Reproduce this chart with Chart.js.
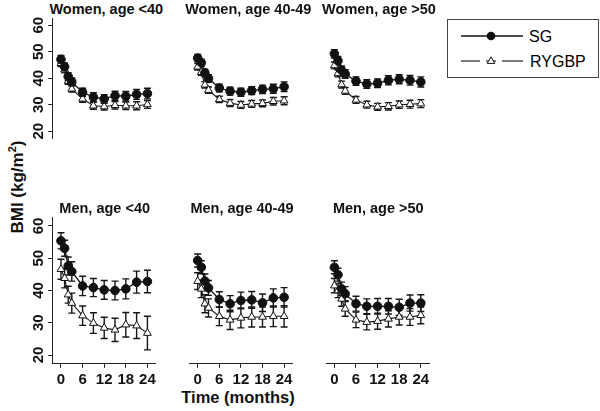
<!DOCTYPE html>
<html lang="en">
<head>
<meta charset="UTF-8">
<title>BMI after SG and RYGBP</title>
<script src="https://cdn.jsdelivr.net/npm/chart.js"></script>
<style>
  body { margin: 0; background: #fff; font-family: "Liberation Sans", Arial, sans-serif; color: #111; }
  #wrap { position: relative; width: 600px; height: 411px; overflow: hidden; }
  #wrap canvas { position: absolute; left: 0; top: 0; }
  .ptitle { position: absolute; font-weight: bold; font-size: 14.5px; white-space: nowrap; transform: translate(-50%, -50%); }
  .ytitle { position: absolute; left: 17px; top: 187px; font-weight: bold; font-size: 17px; white-space: nowrap; transform: translate(-50%, -50%) rotate(-90deg); }
  .xtitle { position: absolute; left: 238px; top: 397px; font-weight: bold; font-size: 16.5px; white-space: nowrap; transform: translate(-50%, -50%); }
  .legend { position: absolute; left: 447px; top: 19px; width: 150px; height: 57px; border: 1px solid #444; }
  .legend svg { position: absolute; left: 0; top: 0; }
</style>
</head>
<body>
<div id="wrap">
  <div class="ytitle">BMI (kg/m<sup style="font-size:11px">2</sup>)</div>
  <div class="xtitle">Time (months)</div>
  <div class="legend">
    <svg width="150" height="57" font-family="Liberation Sans, Arial" font-size="16">
      <line x1="13" y1="16" x2="75" y2="16" stroke="#111" stroke-width="1.3"/>
      <circle cx="43" cy="16" r="4.3" fill="#111"/>
      <line x1="13" y1="41" x2="32" y2="41" stroke="#111" stroke-width="1.1"/>
      <line x1="38" y1="41" x2="48" y2="41" stroke="#111" stroke-width="1.1"/>
      <line x1="54" y1="41" x2="75" y2="41" stroke="#111" stroke-width="1.1"/>
      <polygon points="43,36.8 39.2,43.4 46.8,43.4" fill="#fff" stroke="#111" stroke-width="1"/>
      <text x="81" y="16" dominant-baseline="central">SG</text>
      <text x="82" y="41" dominant-baseline="central">RYGBP</text>
    </svg>
  </div>
</div>

<script>
  const months = [0, 1, 2, 3, 6, 9, 12, 15, 18, 21, 24];
  const xTicks = [0, 6, 12, 18, 24];
  const yTicks = [20, 30, 40, 50, 60];
  const panelTitles = ['Women, age <40', 'Women, age 40-49', 'Women, age >50',
                       'Men, age <40', 'Men, age 40-49', 'Men, age >50'];

  // mean BMI and error (half-width of the bar)
  const womenU40SG     = [47.1, 44.3, 40.6, 38.6, 34.7, 32.9, 32.2, 33.4, 33.2, 33.9, 34.2];
  const womenU40SGErr  = [1.5, 1.5, 1.5, 1.5, 1.5, 1.6, 1.6, 1.7, 1.8, 1.9, 2.0];
  const womenU40RY     = [45.6, 43.2, 38.9, 36.0, 32.2, 29.6, 29.3, 29.8, 29.6, 29.6, 30.1];
  const womenU40RYErr  = [1.2, 1.2, 1.2, 1.2, 1.3, 1.3, 1.3, 1.4, 1.4, 1.5, 1.5];

  const women4049SG    = [47.6, 45.8, 42.0, 39.9, 36.3, 35.1, 34.7, 35.3, 35.8, 36.0, 36.8];
  const women4049SGErr = [1.4, 1.4, 1.4, 1.4, 1.4, 1.5, 1.5, 1.5, 1.6, 1.7, 1.8];
  const women4049RY    = [44.3, 42.3, 37.5, 35.5, 32.0, 30.6, 29.9, 30.3, 30.5, 31.3, 31.5];
  const women4049RYErr = [1.2, 1.2, 1.2, 1.2, 1.2, 1.3, 1.3, 1.3, 1.3, 1.4, 1.5];

  const women50SG      = [49.2, 46.6, 43.0, 41.6, 38.9, 37.8, 38.1, 39.2, 39.6, 39.2, 38.6];
  const women50SGErr   = [1.6, 1.6, 1.6, 1.6, 1.6, 1.6, 1.6, 1.7, 1.7, 1.8, 1.9];
  const women50RY      = [44.8, 41.8, 37.6, 35.2, 31.8, 30.0, 29.2, 29.4, 30.0, 30.2, 30.4];
  const women50RYErr   = [1.3, 1.3, 1.3, 1.3, 1.3, 1.3, 1.3, 1.4, 1.4, 1.5, 1.5];

  const men40SG        = [55.4, 53.1, 47.6, 45.9, 41.4, 40.9, 40.2, 40.0, 40.5, 42.6, 42.8];
  const men40SGErr     = [2.5, 2.5, 2.8, 3.0, 3.0, 2.8, 2.9, 2.9, 3.1, 3.4, 3.5];
  const men40RY        = [46.6, 43.8, 38.7, 36.1, 32.2, 29.9, 28.4, 27.8, 29.4, 29.1, 26.8];
  const men40RYErr     = [3.1, 3.0, 2.6, 3.1, 3.0, 3.2, 3.3, 3.6, 3.8, 4.0, 5.2];

  const men4049SG      = [49.3, 47.2, 42.9, 40.8, 37.2, 35.9, 36.9, 37.1, 36.2, 37.7, 37.9];
  const men4049SGErr   = [2.0, 2.0, 2.2, 2.3, 2.4, 2.5, 2.6, 2.6, 2.7, 2.8, 3.0];
  const men4049RY      = [42.9, 40.5, 35.9, 34.6, 32.0, 30.9, 31.5, 31.8, 31.8, 32.0, 32.0];
  const men4049RYErr   = [2.6, 2.7, 2.8, 2.8, 2.9, 3.0, 3.1, 3.1, 3.1, 3.2, 3.3];

  const men50SG        = [47.2, 44.9, 40.5, 39.0, 35.9, 35.1, 35.1, 35.1, 34.8, 36.1, 36.1];
  const men50SGErr     = [2.0, 2.0, 2.1, 2.2, 2.3, 2.3, 2.4, 2.4, 2.5, 2.5, 2.6];
  const men50RY        = [41.5, 40.0, 37.4, 34.3, 30.9, 30.2, 30.5, 31.2, 31.8, 31.8, 32.3];
  const men50RYErr     = [2.2, 2.2, 2.3, 2.3, 2.4, 2.4, 2.5, 2.5, 2.5, 2.6, 2.6];

  const panels = [
    { sg: womenU40SG, sgErr: womenU40SGErr, ry: womenU40RY, ryErr: womenU40RYErr },
    { sg: women4049SG, sgErr: women4049SGErr, ry: women4049RY, ryErr: women4049RYErr },
    { sg: women50SG, sgErr: women50SGErr, ry: women50RY, ryErr: women50RYErr },
    { sg: men40SG, sgErr: men40SGErr, ry: men40RY, ryErr: men40RYErr },
    { sg: men4049SG, sgErr: men4049SGErr, ry: men4049RY, ryErr: men4049RYErr },
    { sg: men50SG, sgErr: men50SGErr, ry: men50RY, ryErr: men50RYErr }
  ];

  // page layout
  const W = 600, H = 411;
  const plotLeft = [52.7, 189.4, 326.1];
  const plotTop = [18.3, 217.6];
  const plotW = 103, plotH = 145.8;
  const xAxisH = 26;
  const titleX = [[106.3, 248.3, 379], [104.7, 242, 378.3]];
  const titleY = [8.5, 208];
  const FONT = '"Liberation Sans", Arial, sans-serif';
  const INK = '#111';

  const errorBars = {
    id: 'errorBars',
    beforeDatasetsDraw(chart) {
      const { ctx, scales: { x, y } } = chart;
      ctx.save();
      ctx.strokeStyle = '#161616';
      ctx.lineWidth = 1.4;
      chart.data.datasets.forEach(ds => {
        ds.data.forEach((pt, i) => {
          const px = x.getPixelForValue(pt.x);
          const top = y.getPixelForValue(pt.y + ds.err[i]);
          const bot = y.getPixelForValue(pt.y - ds.err[i]);
          ctx.beginPath();
          ctx.moveTo(px, top); ctx.lineTo(px, bot);
          ctx.moveTo(px - 3.5, top); ctx.lineTo(px + 3.5, top);
          ctx.moveTo(px - 3.5, bot); ctx.lineTo(px + 3.5, bot);
          ctx.stroke();
        });
      });
      ctx.restore();
    }
  };

  // y tick labels are rotated (read bottom to top)
  const yTickLabels = {
    id: 'yTickLabels',
    afterDraw(chart) {
      const { ctx, chartArea, scales: { y } } = chart;
      ctx.save();
      ctx.fillStyle = INK;
      ctx.font = 'bold 15px ' + FONT;
      ctx.textAlign = 'center';
      ctx.textBaseline = 'alphabetic';
      y.ticks.forEach(t => {
        ctx.save();
        ctx.translate(chartArea.left - 9.4, y.getPixelForValue(t.value));
        ctx.rotate(-Math.PI / 2);
        ctx.fillText(String(t.value), 0, 0);
        ctx.restore();
      });
      ctx.restore();
    }
  };

  const wrap = document.getElementById('wrap');

  panels.forEach((p, k) => {
    const row = Math.floor(k / 3), col = k % 3;
    const L = plotLeft[col], T = plotTop[row];
    const hasX = row === 1;

    const t = document.createElement('div');
    t.className = 'ptitle';
    t.style.left = titleX[row][col] + 'px';
    t.style.top = titleY[row] + 'px';
    t.textContent = panelTitles[k];
    wrap.appendChild(t);

    const cv = document.createElement('canvas');
    cv.width = W; cv.height = H;
    wrap.appendChild(cv);

    const axisGrid = { display: true, drawOnChartArea: false, drawTicks: true, tickLength: 4.5, color: '#222', lineWidth: 1 };
    const axisBorder = { display: true, color: '#222', width: 1 };

    new Chart(cv, {
      type: 'line',
      data: {
        datasets: [
          {
            label: 'SG',
            data: months.map((m, i) => ({ x: m, y: p.sg[i] })),
            err: p.sgErr,
            borderColor: INK, borderWidth: 1.3,
            pointStyle: 'circle', pointRadius: 4.3,
            pointBackgroundColor: INK, pointBorderColor: INK, pointBorderWidth: 1
          },
          {
            label: 'RYGBP',
            data: months.map((m, i) => ({ x: m, y: p.ry[i] })),
            err: p.ryErr,
            borderColor: INK, borderWidth: 1.1,
            pointStyle: 'triangle', pointRadius: 4.5,
            pointBackgroundColor: '#fff', pointBorderColor: INK, pointBorderWidth: 1
          }
        ]
      },
      options: {
        responsive: false,
        animation: false,
        events: [],
        layout: { padding: { left: L, top: T, right: W - L - plotW, bottom: H - T - plotH - (hasX ? xAxisH : 0) } },
        plugins: { legend: { display: false }, tooltip: { enabled: false } },
        scales: {
          x: {
            type: 'linear', min: -2.3, max: 26.3,
            display: hasX,
            afterBuildTicks: s => { s.ticks = xTicks.map(v => ({ value: v })); },
            afterFit: s => { s.height = xAxisH; },
            grid: axisGrid, border: axisBorder,
            ticks: { font: { family: FONT, size: 15, weight: 'bold' }, color: INK, padding: 3, maxRotation: 0, autoSkip: false }
          },
          y: {
            type: 'linear', min: 17.4, max: 62.6,
            display: col === 0,
            afterBuildTicks: s => { s.ticks = yTicks.map(v => ({ value: v })); },
            afterFit: s => { s.width = 0; },
            grid: axisGrid, border: axisBorder,
            ticks: { display: false }
          }
        }
      },
      plugins: col === 0 ? [errorBars, yTickLabels] : [errorBars]
    });
  });
</script>
</body>
</html>
